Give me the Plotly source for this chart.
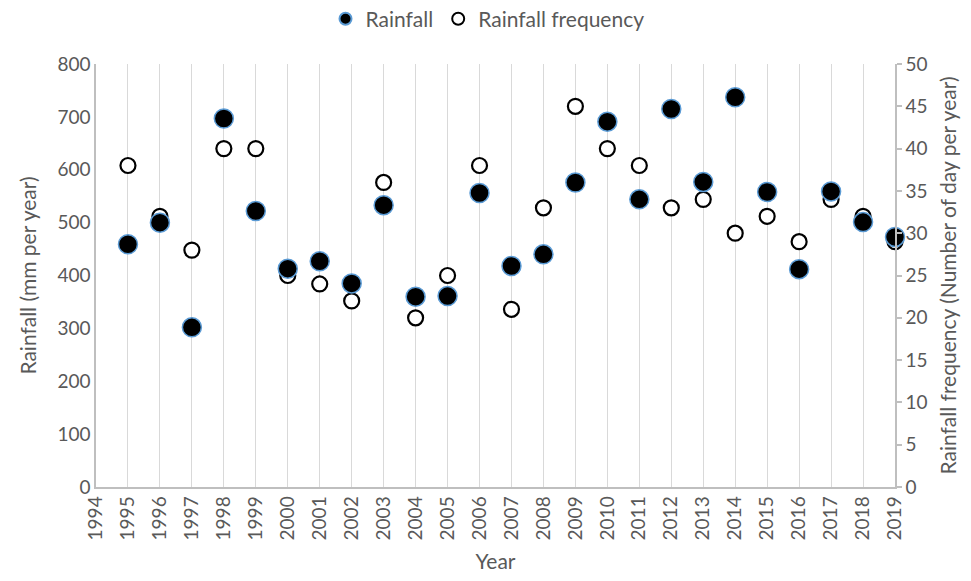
import plotly.graph_objects as go

years = list(range(1995, 2020))
rainfall_mm = [459, 500, 302, 697, 522, 413, 427, 385, 533, 360, 361, 556, 418, 440,
               576, 691, 544, 715, 577, 737, 558, 412, 559, 501, 473]
rain_freq_days = [38, 32, 28, 40, 40, 25, 24, 22, 36, 20, 25, 38, 21, 33,
                  45, 40, 38, 33, 34, 30, 32, 29, 34, 32, 29]

GRAY = "#595959"
AX = "#bfbfbf"
FONT = "Lato"
TICK = 19
TITLE = 21

fig = go.Figure()
# frequency on the base axis (right side), rainfall on overlay (drawn on top)
fig.add_trace(go.Scatter(
    x=years, y=rain_freq_days, mode="markers", name="Rainfall frequency",
    yaxis="y", legendrank=2, cliponaxis=False,
    marker=dict(symbol="circle", size=15, color="white",
                line=dict(color="black", width=2.2)),
))
fig.add_trace(go.Scatter(
    x=years, y=rainfall_mm, mode="markers", name="Rainfall",
    yaxis="y2", legendrank=1, cliponaxis=False,
    marker=dict(symbol="circle", size=19, color="black",
                line=dict(color="#5B9BD5", width=1.5)),
))

fig.update_layout(
    width=971, height=581,
    margin=dict(l=96, r=76, t=64, b=94, autoexpand=False),
    paper_bgcolor="white", plot_bgcolor="white",
    font=dict(family=FONT, size=TICK, color=GRAY),
    showlegend=True,
    legend=dict(orientation="h", x=0.49, xanchor="center",
                yref="container", y=0.967, yanchor="middle",
                font=dict(size=TITLE, color=GRAY), itemsizing="constant",
                traceorder="normal"),
    xaxis=dict(range=[1994, 2019], tickmode="linear", tick0=1994, dtick=1,
               tickangle=-90, showgrid=True, gridcolor="#d9d9d9", gridwidth=1.3,
               showline=True, linecolor=AX, linewidth=1.5, ticks="", zeroline=False,
               automargin=False,
               title=dict(text="Year", font=dict(size=TITLE, color=GRAY)),
               tickfont=dict(size=TICK, color=GRAY)),
    yaxis=dict(range=[0, 50], tickmode="linear", tick0=0, dtick=5, side="right",
               showgrid=False, zeroline=False, showline=True, linecolor=AX, linewidth=1.5,
               ticks="outside", ticklen=5, tickcolor=AX, tickwidth=1.5,
               automargin=False,
               title=dict(text="Rainfall frequency (Number of day per year)",
                          font=dict(size=TITLE, color=GRAY)),
               tickfont=dict(size=TICK, color=GRAY)),
    yaxis2=dict(range=[0, 800], tickmode="linear", tick0=0, dtick=100, side="left",
                overlaying="y", showgrid=False, zeroline=False, showline=True,
                linecolor=AX, linewidth=1.5, ticks="", automargin=False,
                title=dict(text="Rainfall (mm per year)", font=dict(size=TITLE, color=GRAY)),
                tickfont=dict(size=TICK, color=GRAY)),
)

fig.write_html("out.html")
